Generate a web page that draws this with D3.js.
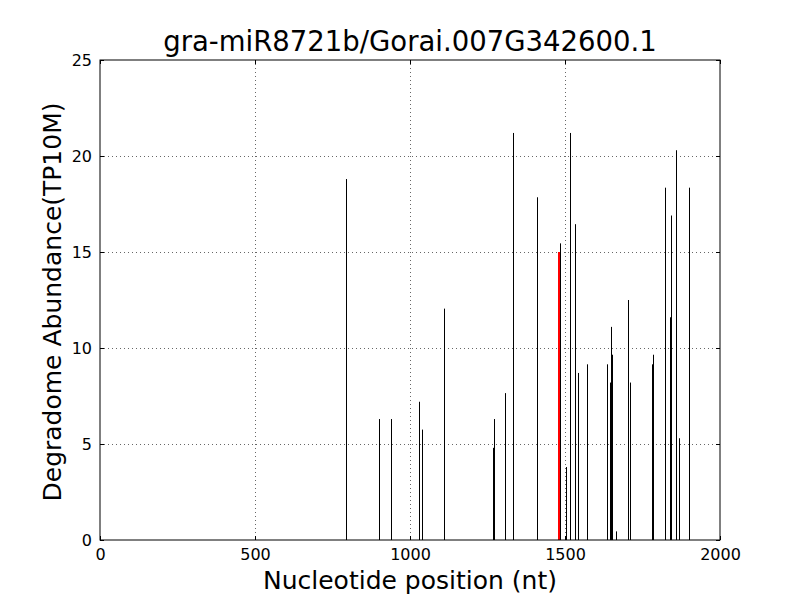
<!DOCTYPE html>
<meta charset="utf-8">
<head>
<style>
html, body {margin:0px; padding:0px; background:white;}
text {font-family: "DejaVu Sans", sans-serif;}
</style>
</head>
<script src="https://d3js.org/d3.v7.min.js"></script>
<div id="my_dataviz"></div>
<script>

// degradome reads: position (nt) and abundance (TP10M)
var positions = [795, 901, 939, 1029, 1040, 1109, 1268, 1271, 1308, 1333, 1409, 1411,
                 1483, 1503, 1515, 1533, 1543, 1572, 1637, 1646, 1649, 1653, 1666,
                 1704, 1711, 1782, 1785, 1824, 1840, 1843, 1859, 1869, 1901]
var abundance = [18.8, 6.3, 6.3, 7.2, 5.75, 12.05, 4.8, 6.3, 7.65, 21.2, 12.5, 17.85,
                 15.45, 3.8, 21.2, 16.45, 8.7, 9.15, 9.15, 8.2, 11.1, 9.65, 0.45,
                 12.5, 8.2, 9.15, 9.65, 18.35, 11.6, 16.9, 20.3, 5.3, 18.35]
// the cleavage site highlighted in red
var sitePos = [1480]
var siteVal = [15.0]

var xTicks = [0, 500, 1000, 1500, 2000]
var yTicks = [0, 5, 10, 15, 20, 25]

var margin = {top: 60, right: 80, bottom: 60, left: 100},
  width = 620,
  height = 480

var svg = d3.select("#my_dataviz")
.append("svg")
  .attr("width", 800)
  .attr("height", 600)
.append("g")
  .attr("transform", "translate(" + margin.left + "," + margin.top + ")")

var x = d3.scaleLinear().domain([0, 2000]).range([0, width])
var y = d3.scaleLinear().domain([0, 25]).range([height, 0])

// grid
svg.append("g")
  .selectAll("line")
  .data(xTicks.slice(1, -1))
  .enter().append("line")
    .attr("x1", function(d) { return x(d) + 0.5 })
    .attr("x2", function(d) { return x(d) + 0.5 })
    .attr("y1", 0).attr("y2", height)
    .style("stroke", "black").style("stroke-width", 0.6)
    .style("stroke-dasharray", "1,3")
svg.append("g")
  .selectAll("line")
  .data(yTicks.slice(1, -1))
  .enter().append("line")
    .attr("y1", function(d) { return y(d) + 0.5 })
    .attr("y2", function(d) { return y(d) + 0.5 })
    .attr("x1", 0).attr("x2", width)
    .style("stroke", "black").style("stroke-width", 0.6)
    .style("stroke-dasharray", "1,3")

// bars
svg.append("g")
  .selectAll("line")
  .data(positions)
  .enter().append("line")
    .attr("x1", function(d) { return Math.round(x(d)) + 0.5 })
    .attr("x2", function(d) { return Math.round(x(d)) + 0.5 })
    .attr("y1", y(0))
    .attr("y2", function(d, i) { return y(abundance[i]) })
    .style("stroke", "black").style("stroke-width", 1)

svg.append("g")
  .selectAll("line")
  .data(sitePos)
  .enter().append("line")
    .attr("x1", function(d) { return Math.round(x(d)) })
    .attr("x2", function(d) { return Math.round(x(d)) })
    .attr("y1", y(0))
    .attr("y2", function(d, i) { return y(siteVal[i]) })
    .style("stroke", "red").style("stroke-width", 2)

// axes, ticks pointing inward on all four sides
svg.append("g")
  .attr("transform", "translate(0," + height + ")")
  .call(d3.axisBottom(x).tickValues(xTicks).tickSize(-4).tickPadding(9).tickFormat(d3.format("d")))
svg.append("g")
  .call(d3.axisTop(x).tickValues(xTicks).tickSize(-4).tickFormat(""))
svg.append("g")
  .call(d3.axisLeft(y).tickValues(yTicks).tickSize(-4).tickPadding(8).tickFormat(d3.format("d")))
svg.append("g")
  .attr("transform", "translate(" + width + ",0)")
  .call(d3.axisRight(y).tickValues(yTicks).tickSize(-4).tickFormat(""))

svg.selectAll(".domain").remove()
svg.selectAll(".tick line").style("stroke", "black")
svg.selectAll(".tick text")
  .style("font-family", "DejaVu Sans")
  .style("font-size", "16px")
  .style("fill", "black")

svg.append("rect")
  .attr("width", width).attr("height", height)
  .style("fill", "none").style("stroke", "black").style("stroke-width", 1)

svg.append("text")
  .attr("x", width / 2).attr("y", -9)
  .attr("text-anchor", "middle")
  .style("font-size", "27.5px")
  .text("gra-miR8721b/Gorai.007G342600.1")

svg.append("text")
  .attr("x", width / 2).attr("y", height + 49)
  .attr("text-anchor", "middle")
  .style("font-size", "25px")
  .text("Nucleotide position (nt)")

svg.append("text")
  .attr("transform", "translate(-39," + (height / 2 + 2) + ") rotate(-90)")
  .attr("text-anchor", "middle")
  .style("font-size", "25px")
  .text("Degradome Abundance(TP10M)")

</script>
</html>
